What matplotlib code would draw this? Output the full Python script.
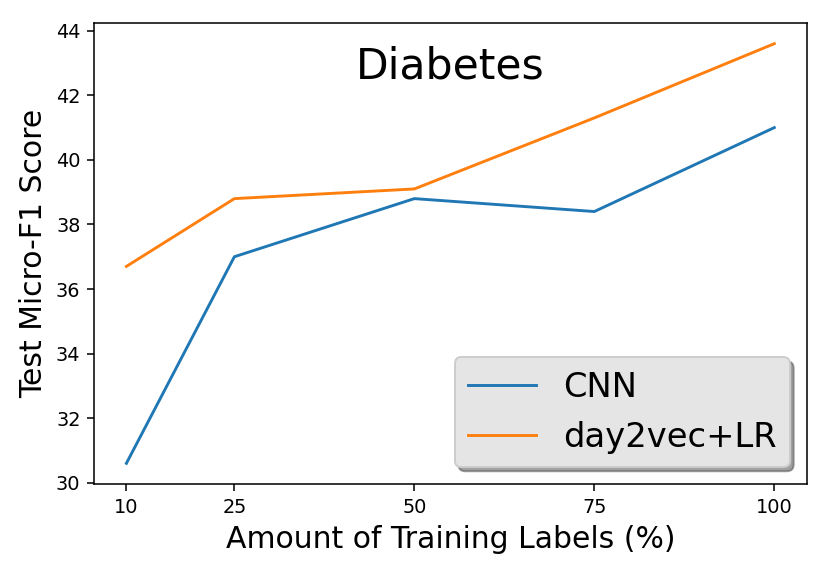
import matplotlib.pyplot as plt

labels_pct = [10, 25, 50, 75, 100]
cnn = [30.6, 37.0, 38.8, 38.4, 41.0]
day2vec_lr = [36.7, 38.8, 39.1, 41.3, 43.6]

dpi = 139
fig = plt.figure(figsize=(830 / dpi, 574 / dpi), dpi=dpi)
ax = fig.add_axes([94 / 830, 89.7 / 574, 712.7 / 830, 461.6 / 574])

ax.plot(labels_pct, cnn, color="#1f77b4", linewidth=1.5, label="CNN")
ax.plot(labels_pct, day2vec_lr, color="#ff7f0e", linewidth=1.5, label="day2vec+LR")

ax.set_xticks(labels_pct)
ax.tick_params(labelsize=10)
ax.set_xlabel("Amount of Training Labels (%)", fontsize=15.5)
ax.set_ylabel("Test Micro-F1 Score", fontsize=15.5)
ax.text(0.5, 0.905, "Diabetes", transform=ax.transAxes, ha="center", va="center", fontsize=22)

leg = ax.legend(loc="lower right", fontsize=17.5, shadow=True, fancybox=True,
                facecolor="#e5e5e5", edgecolor="#cccccc", framealpha=1)

plt.savefig("out.png", dpi=dpi)
